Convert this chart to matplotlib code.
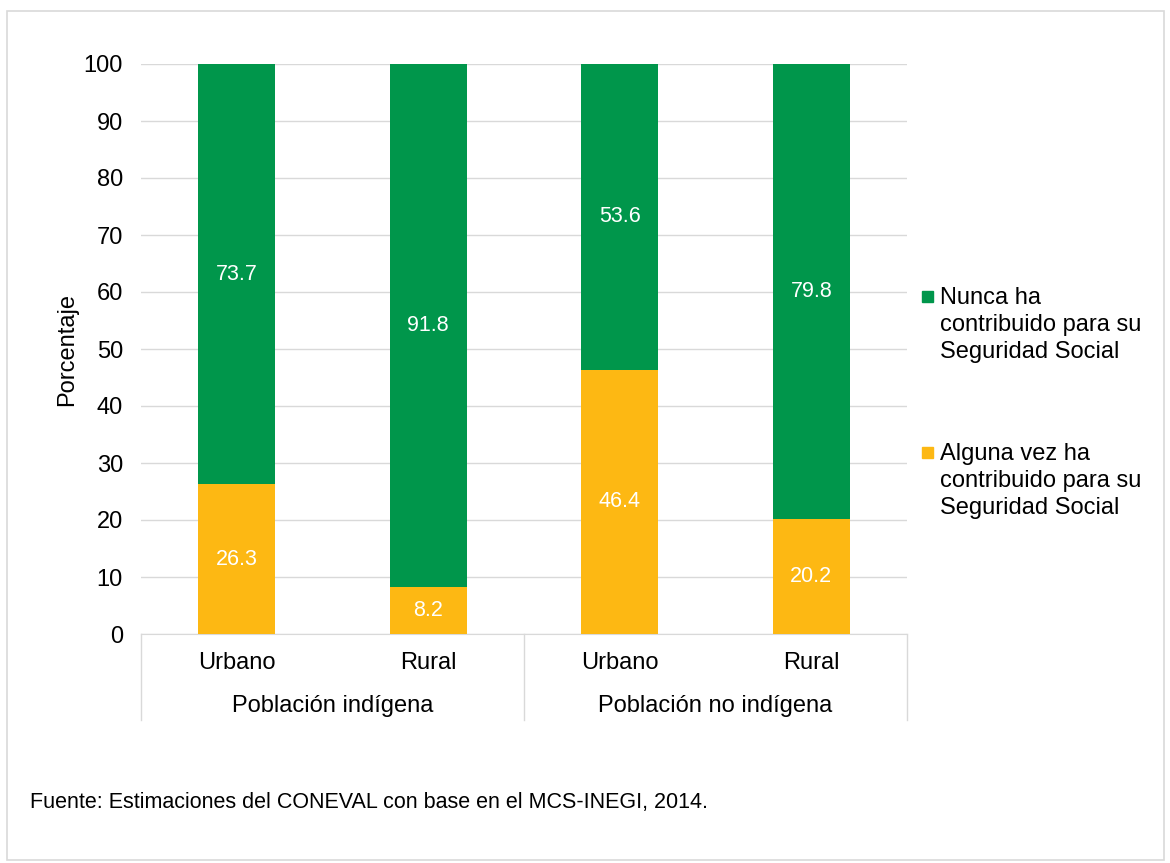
import numpy as np
import matplotlib
matplotlib.use("Agg")
import matplotlib.pyplot as plt
from matplotlib.patches import Rectangle

plt.rcParams["font.family"] = ["Liberation Sans", "DejaVu Sans"]

# === Data ===
categories = ["Urbano", "Rural", "Urbano", "Rural"]
groups = ["Población indígena", "Población no indígena"]
alguna_vez = [26.3, 8.2, 46.4, 20.2]
nunca = [73.7, 91.8, 53.6, 79.8]
series_names = ["Nunca ha\ncontribuido para su\nSeguridad Social",
                "Alguna vez ha\ncontribuido para su\nSeguridad Social"]
source = "Fuente: Estimaciones del CONEVAL con base en el MCS-INEGI, 2014."

green = "#00964B"
orange = "#FDB813"
grid_c = "#D9D9D9"

fs = 17

fig = plt.figure(figsize=(11.7, 8.63), dpi=100)
W, H = 1170, 863
ax = fig.add_axes([141 / W, 1 - 634 / H, 766 / W, 570 / H])

x = np.arange(len(categories))
ax.bar(x, alguna_vez, width=0.4, color=orange, zorder=3)
ax.bar(x, nunca, width=0.4, bottom=alguna_vez, color=green, zorder=3)

for i in range(len(x)):
    ax.text(x[i], alguna_vez[i] / 2, f"{alguna_vez[i]:.1f}", color="white",
            ha="center", va="center", fontsize=15.5, zorder=4)
    ax.text(x[i], alguna_vez[i] + nunca[i] / 2, f"{nunca[i]:.1f}", color="white",
            ha="center", va="center", fontsize=15.5, zorder=4)

ax.set_xlim(-0.5, len(categories) - 0.5)
ax.set_ylim(0, 100)
ax.set_yticks(np.arange(0, 101, 10))
ax.tick_params(axis="y", length=0, labelsize=fs, pad=13)
ax.tick_params(axis="x", length=0, labelbottom=False)
ax.grid(axis="y", color=grid_c, linewidth=1, zorder=0)
for s in ["top", "right", "left"]:
    ax.spines[s].set_visible(False)
ax.spines["bottom"].set_color(grid_c)
ax.set_ylabel("Porcentaje", fontsize=fs, labelpad=4)

# two-level category axis
for i, c in enumerate(categories):
    fig.text((141 + 95.75 + i * 191.5) / W, 1 - 663 / H, c, ha="center",
             va="center", fontsize=fs)
for j, g in enumerate(groups):
    fig.text((141 + 191.5 + j * 383) / W, 1 - 706 / H, g, ha="center",
             va="center", fontsize=fs)
for xs in [141, 524, 907]:
    fig.add_artist(plt.Line2D([xs / W, xs / W], [1 - 634 / H, 1 - 720 / H],
                              color=grid_c, linewidth=1))

# legend
for (ytop, col, name) in [(297, green, series_names[0]), (453, orange, series_names[1])]:
    fig.add_artist(Rectangle((922 / W, 1 - (ytop + 5) / H), 11 / W, 11 / H,
                             color=col, transform=fig.transFigure))
    fig.text(940 / W, 1 - (ytop - 10) / H, name, ha="left", va="top",
             fontsize=fs, linespacing=1.3)

fig.text(30 / W, 1 - 802 / H, source, ha="left", va="center", fontsize=15.5)

# outer border
fig.add_artist(Rectangle((7 / W, 3 / H), 1157 / W, 1 - 14 / H, fill=False,
                         edgecolor=grid_c, linewidth=1.2, transform=fig.transFigure))

fig.savefig("out.png", dpi=100)
